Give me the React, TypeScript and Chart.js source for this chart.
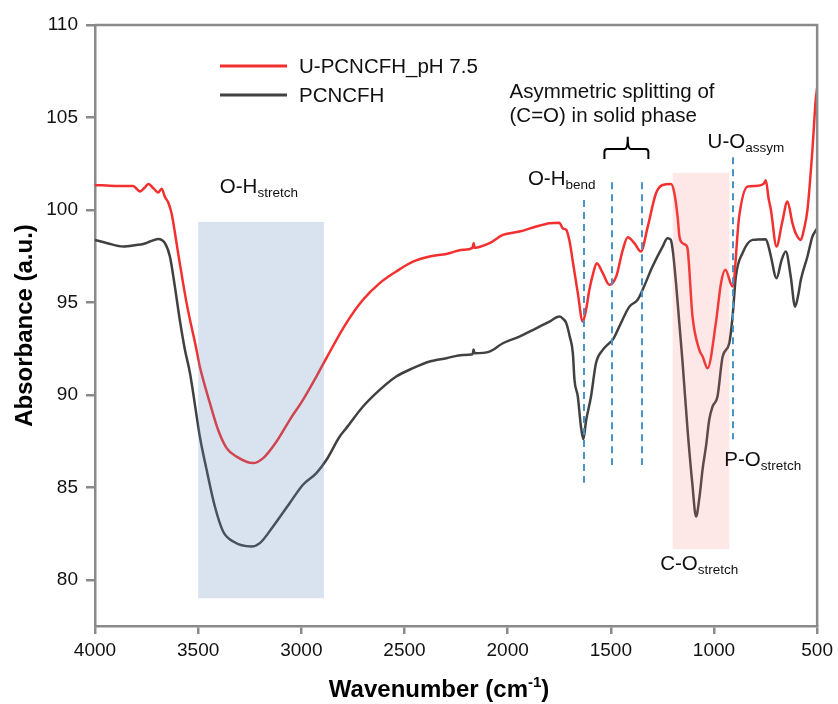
import React, { useEffect, useRef } from "react";
import { Chart, registerables } from "chart.js";
Chart.register(...registerables);

// ---------- data ----------
const seriesLabels = ["U-PCNCFH_pH 7.5", "PCNCFH"];

const wavenumberRed = [
  4000, 3900, 3816, 3782, 3760, 3742, 3715, 3694, 3677, 3661, 3645, 3629, 3597, 3556, 3508, 3492, 3443, 3403, 3362,
  3314, 3234, 3185, 3120, 3056, 2992, 2927, 2878, 2782, 2701, 2620, 2540, 2459, 2378, 2297, 2217, 2170, 2165, 2160,
  2088, 2023, 1943, 1862, 1797, 1749, 1733, 1716, 1700, 1684, 1660, 1636, 1620, 1604, 1585, 1568, 1539, 1507, 1474,
  1442, 1418, 1386, 1354, 1321, 1281, 1249, 1208, 1192, 1175, 1168, 1152, 1136, 1128, 1104, 1071, 1055, 1031, 991,
  966, 945, 910, 878, 838, 800, 760, 749, 735, 724, 697, 670, 644, 620, 604, 579, 563, 547, 523, 507, 500,
];
const absorbanceRed = [
  101.35, 101.3, 101.3, 101.0, 101.2, 101.4, 101.15, 100.94, 101.15, 100.7, 100.4, 99.82, 97.66, 94.96, 92.43, 91.53,
  89.55, 88.1, 87.12, 86.66, 86.31, 86.58, 87.48, 88.65, 89.73, 90.99, 92.0, 93.88, 95.14, 96.04, 96.67, 97.2, 97.48,
  97.62, 97.84, 97.95, 98.2, 97.95, 98.2, 98.65, 98.83, 99.1, 99.28, 99.31, 99.0, 98.92, 98.3, 97.2, 95.5, 93.96,
  94.6, 95.68, 96.6, 97.12, 96.58, 95.95, 96.4, 97.84, 98.52, 98.2, 97.75, 99.1, 100.9, 101.35, 101.4, 100.9, 99.5,
  98.6, 98.2, 98.1, 97.9, 94.23, 92.43, 92.07, 91.44, 93.88, 96.04, 96.76, 95.86, 99.64, 101.26, 101.3, 101.4, 101.6,
  100.6, 100.0, 98.02, 99.3, 100.45, 99.3, 98.74, 98.38, 99.0, 100.0, 103.24, 105.95, 106.6,
];

const wavenumberBlack = [
  4000, 3940, 3863, 3800, 3766, 3734, 3694, 3661, 3637, 3613, 3589, 3564, 3540, 3524, 3492, 3459, 3419, 3379, 3330,
  3242, 3201, 3137, 3056, 2992, 2927, 2878, 2814, 2782, 2701, 2620, 2540, 2459, 2378, 2297, 2217, 2170, 2165, 2160,
  2088, 2023, 1943, 1862, 1797, 1749, 1730, 1716, 1700, 1684, 1676, 1660, 1645, 1633, 1620, 1596, 1572, 1539, 1507,
  1491, 1459, 1410, 1370, 1346, 1298, 1249, 1225, 1210, 1200, 1184, 1168, 1152, 1128, 1105, 1087, 1070, 1055, 1039,
  1023, 1007, 983, 958, 926, 910, 894, 862, 813, 749, 735, 724, 697, 672, 652, 628, 607, 590, 579, 547, 523, 510, 500,
];
const absorbanceBlack = [
  98.38, 98.2, 98.02, 98.1, 98.16, 98.29, 98.43, 98.2, 97.48, 95.86, 94.05, 92.43, 91.2, 90.09, 87.75, 85.95, 83.96,
  82.61, 82.07, 81.8, 81.98, 82.88, 84.15, 85.14, 85.77, 86.49, 87.75, 88.2, 89.37, 90.27, 90.99, 91.44, 91.8, 91.98,
  92.16, 92.2, 92.45, 92.25, 92.34, 92.79, 93.15, 93.6, 93.96, 94.23, 94.1, 93.88, 93.2, 92.25, 90.8, 89.91, 88.3,
  87.6, 88.6, 89.91, 91.71, 92.43, 92.8, 92.97, 93.69, 94.77, 95.14, 95.68, 96.94, 98.02, 98.47, 98.4, 97.84, 96.04,
  93.88, 91.71, 88.1, 85.2, 83.42, 84.5, 86.0, 87.2, 88.65, 89.37, 89.91, 92.07, 92.79, 94.23, 96.4, 97.66, 98.38,
  98.42, 98.0, 97.48, 96.31, 97.3, 97.75, 96.4, 94.77, 95.5, 96.22, 97.48, 98.56, 98.83, 99.0,
];

const xTicks = [4000, 3500, 3000, 2500, 2000, 1500, 1000, 500];
const yTicks = [80, 85, 90, 95, 100, 105, 110];

// shaded bands: from / to wavenumber, low / high absorbance
const bandFrom = [3500, 1200];
const bandTo = [2890, 926];
const bandLow = [79, 81.66];
const bandHigh = [99.35, 102.0];

// dashed marker lines
const markerWn = [1631, 1494, 1349, 910];
const markerLow = [85.24, 86.2, 86.2, 87.6];
const markerHigh = [100.54, 101.5, 101.5, 102.85];

// annotation labels: main text, subscript, wavenumber anchor, value anchor
const labelMain = ["O-H", "O-H", "U-O", "P-O", "C-O"];
const labelSub = ["stretch", "bend", "assym", "stretch", "stretch"];
const labelWn = [3395, 1902, 1031, 950, 1261];
const labelVal = [100.89, 101.35, 103.34, 86.16, 80.54];

const noteLines = ["Asymmetric splitting of", "(C=O) in solid phase"];
const noteWn = 1991;
const noteVal = [106.06, 104.73];

// brace over the two C=O lines
const braceWn = [1531, 1418, 1318];
const braceVal = [102.76, 103.3, 103.96];

const FONT = '"Liberation Sans", Arial, sans-serif';
const AXIS = "#8a8a8a";
const RED = "#f3302f";
const DARK = "#414141";

const decor = {
  id: "decor",
  afterDatasetsDraw(chart: any) {
    const { ctx, scales, chartArea } = chart;
    const x = scales.x, y = scales.y;
    ctx.save();
    const bandColors = ["rgba(96,140,190,0.24)", "rgba(245,110,110,0.17)"];
    bandFrom.forEach((f, i) => {
      const x1 = x.getPixelForValue(f), x2 = x.getPixelForValue(bandTo[i]);
      const y1 = y.getPixelForValue(bandHigh[i]), y2 = y.getPixelForValue(bandLow[i]);
      ctx.fillStyle = bandColors[i];
      ctx.fillRect(Math.min(x1, x2), y1, Math.abs(x2 - x1), y2 - y1);
    });
    ctx.strokeStyle = "#4b93c6";
    ctx.lineWidth = 2;
    ctx.setLineDash([7, 5]);
    markerWn.forEach((w, i) => {
      const px = Math.round(x.getPixelForValue(w));
      ctx.beginPath();
      ctx.moveTo(px, y.getPixelForValue(markerHigh[i]));
      ctx.lineTo(px, y.getPixelForValue(markerLow[i]));
      ctx.stroke();
    });
    ctx.setLineDash([]);
    const bx1 = x.getPixelForValue(braceWn[0]);
    const bxm = x.getPixelForValue(braceWn[1]);
    const bx2 = x.getPixelForValue(braceWn[2]);
    const byb = y.getPixelForValue(braceVal[0]);
    const byh = y.getPixelForValue(braceVal[1]);
    const byt = y.getPixelForValue(braceVal[2]);
    ctx.strokeStyle = "#000";
    ctx.lineWidth = 2;
    ctx.beginPath();
    ctx.moveTo(bx1, byb);
    ctx.lineTo(bx1, byh + 3);
    ctx.quadraticCurveTo(bx1, byh, bx1 + 3, byh);
    ctx.lineTo(bxm - 3, byh);
    ctx.quadraticCurveTo(bxm, byh, bxm, byt);
    ctx.quadraticCurveTo(bxm, byh, bxm + 3, byh);
    ctx.lineTo(bx2 - 3, byh);
    ctx.quadraticCurveTo(bx2, byh, bx2, byh + 3);
    ctx.lineTo(bx2, byb);
    ctx.stroke();
    ctx.fillStyle = "#111";
    ctx.textAlign = "left";
    ctx.textBaseline = "alphabetic";
    labelMain.forEach((m, i) => {
      const px = x.getPixelForValue(labelWn[i]);
      const py = y.getPixelForValue(labelVal[i]);
      ctx.font = `20.5px ${FONT}`;
      ctx.fillText(m, px, py);
      const w = ctx.measureText(m).width;
      ctx.font = `13.5px ${FONT}`;
      ctx.fillText(labelSub[i], px + w, py + 4);
    });
    ctx.font = `20.5px ${FONT}`;
    noteLines.forEach((t, i) => {
      ctx.fillText(t, x.getPixelForValue(noteWn), y.getPixelForValue(noteVal[i]));
    });
    const lx = chartArea.left + 125;
    const colors = [RED, DARK];
    seriesLabels.forEach((s, i) => {
      const ly = chartArea.top + 41 + i * 29;
      ctx.strokeStyle = colors[i];
      ctx.lineWidth = 3;
      ctx.beginPath();
      ctx.moveTo(lx, ly);
      ctx.lineTo(lx + 67, ly);
      ctx.stroke();
      ctx.fillStyle = "#111";
      ctx.textBaseline = "middle";
      ctx.font = `20.5px ${FONT}`;
      ctx.fillText(s, lx + 79, ly + 1);
    });
    ctx.strokeStyle = AXIS;
    ctx.lineWidth = 2.5;
    ctx.beginPath();
    ctx.moveTo(chartArea.left, chartArea.top);
    ctx.lineTo(chartArea.right, chartArea.top);
    ctx.lineTo(chartArea.right, chartArea.bottom);
    ctx.stroke();
    ctx.restore();
  },
  afterDraw(chart: any) {
    const { ctx, chartArea } = chart;
    ctx.save();
    ctx.fillStyle = "#000";
    ctx.font = `bold 24px ${FONT}`;
    ctx.textAlign = "center";
    ctx.textBaseline = "alphabetic";
    ctx.translate(32, (chartArea.top + chartArea.bottom) / 2);
    ctx.rotate(-Math.PI / 2);
    ctx.fillText("Absorbance (a.u.)", 0, 0);
    ctx.restore();
    ctx.save();
    ctx.fillStyle = "#000";
    ctx.textAlign = "left";
    ctx.textBaseline = "alphabetic";
    const p1 = "Wavenumber (cm", sup = "-1", p3 = ")";
    ctx.font = `bold 24px ${FONT}`;
    const w1 = ctx.measureText(p1).width;
    const w3 = ctx.measureText(p3).width;
    ctx.font = `bold 15px ${FONT}`;
    const w2 = ctx.measureText(sup).width;
    const total = w1 + w2 + w3;
    const cx = (chartArea.left + chartArea.right) / 2 - 17;
    const by = 697;
    let sx = cx - total / 2;
    ctx.font = `bold 24px ${FONT}`;
    ctx.fillText(p1, sx, by);
    sx += w1;
    ctx.font = `bold 15px ${FONT}`;
    ctx.fillText(sup, sx, by - 10);
    sx += w2;
    ctx.font = `bold 24px ${FONT}`;
    ctx.fillText(p3, sx, by);
    ctx.restore();
  },
};

export default function App() {
  const ref = useRef<HTMLCanvasElement | null>(null);
  useEffect(() => {
    if (!ref.current) return;
    const chart = new Chart(ref.current, {
      type: "line",
      data: {
        datasets: [
          {
            label: seriesLabels[0],
            data: wavenumberRed.map((w, i) => ({ x: w, y: absorbanceRed[i] })),
            borderColor: RED,
            borderWidth: 2.5,
            pointRadius: 0,
            cubicInterpolationMode: "monotone",
          },
          {
            label: seriesLabels[1],
            data: wavenumberBlack.map((w, i) => ({ x: w, y: absorbanceBlack[i] })),
            borderColor: DARK,
            borderWidth: 2.5,
            pointRadius: 0,
            cubicInterpolationMode: "monotone",
          },
        ],
      },
      options: {
        animation: false,
        responsive: false,
        devicePixelRatio: 1,
        layout: { padding: { top: 25, right: 20, left: 0, bottom: 0 } },
        plugins: { legend: { display: false }, tooltip: { enabled: false } },
        scales: {
          x: {
            type: "linear",
            reverse: true,
            min: 500,
            max: 4000,
            afterBuildTicks: (s: any) => {
              s.ticks = xTicks.map((v) => ({ value: v }));
            },
            afterFit: (s: any) => {
              s.height = 78;
            },
            grid: { drawOnChartArea: false, tickLength: 8, color: AXIS, lineWidth: 2.5 },
            border: { color: AXIS, width: 2.5 },
            ticks: {
              color: "#111",
              font: { family: FONT, size: 19 },
              padding: 5,
              maxRotation: 0,
              callback: (v: any) => String(v),
            },
          },
          y: {
            min: 77.5,
            max: 110,
            afterBuildTicks: (s: any) => {
              s.ticks = yTicks.map((v) => ({ value: v }));
            },
            afterFit: (s: any) => {
              s.width = 95;
            },
            grid: { drawOnChartArea: false, tickLength: 9, color: AXIS, lineWidth: 2.5 },
            border: { color: AXIS, width: 2.5 },
            ticks: { color: "#111", font: { family: FONT, size: 19 }, padding: 8, callback: (v: any) => String(v) },
          },
        },
      },
      plugins: [decor],
    } as any);
    return () => chart.destroy();
  }, []);
  return (
    <div style={{ position: "absolute", left: 0, top: 0, width: 838, height: 704, background: "#fff" }}>
      <canvas ref={ref} width={838} height={704} />
    </div>
  );
}
